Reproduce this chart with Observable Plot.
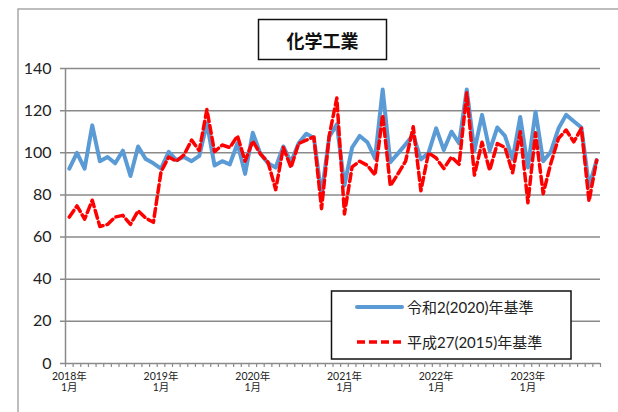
<!DOCTYPE html>
<html>
<head>
<meta charset="utf-8">
<script src="https://cdn.jsdelivr.net/npm/d3@7"></script>
<script src="https://cdn.jsdelivr.net/npm/@observablehq/plot@0.6"></script>
<style>
  body { margin: 0; background: #fff; }
  #chart { width: 618px; height: 412px; overflow: hidden; }
</style>
</head>
<body>
<div id="chart"></div>
<script>
// ---- data ----
const title = "化学工業";
const seriesNames = ["令和2(2020)年基準", "平成27(2015)年基準"];
const years = [2018, 2019, 2020, 2021, 2022, 2023];
const lastMonthOf2023 = 10;
// monthly index, 令和2(2020)年基準 (blue)
const base2020 = [
  92.5, 100, 92.5, 113, 96, 98, 95, 101, 89, 103, 97, 95,
  92.5, 100.5, 96.5, 98, 96, 98.5, 114, 94, 96, 94.5, 104.5, 90,
  109.5, 99.5, 95, 93, 103, 95.5, 104.5, 109, 107, 80, 107.5, 113.5,
  84.5, 102.5, 108, 105, 97.3, 130, 95.5, 99.7, 104, 108.5, 96.8, 100,
  111.6, 101.3, 110, 104.5, 130, 101, 118, 101, 112, 108, 97, 117,
  93, 119.5, 96, 100.5, 111.5, 118, 115, 112, 84, 96.5
];
// monthly index, 平成27(2015)年基準 (red dashed)
const base2015 = [
  69.5, 74.8, 68.5, 77.5, 65, 66, 69.5, 70.3, 66, 72.5, 69, 67,
  91, 98, 96, 99, 106, 101, 120.5, 100.5, 103.7, 102.5, 108, 96,
  105.5, 99.5, 95.5, 82.5, 102.5, 93, 104.4, 106, 107.5, 73.5, 108, 126,
  71, 93.3, 96, 94, 89.4, 118, 84.3, 90, 96, 112.4, 82, 100,
  97.5, 92.5, 98, 94.5, 128.5, 89.4, 105, 91.7, 104.4, 102.5, 90.5, 110,
  76.3, 109.5, 80.6, 95, 106.8, 110.8, 105.2, 111.6, 77, 96.5
];
const yTicks = [0, 20, 40, 60, 80, 100, 120, 140];

// ---- categories (months) ----
const months = [];
for (const y of years) {
  const last = y === years[years.length - 1] ? lastMonthOf2023 : 12;
  for (let m = 1; m <= last; m++) months.push({year: y, month: m});
}
const rows = months.map((d, i) => ({i, ...d, blue: base2020[i], red: base2015[i]}));
const xLabels = rows.filter(d => d.month === 1).map(d => ({i: d.i, label: `${d.year}年\n${d.month}月`}));

const FONT = "Lato, 'Noto Sans CJK JP', sans-serif";
const GRID = "#8a8a8a";
const BLUE = "#5B9BD5";
const RED = "#FF0000";

const plot = Plot.plot({
  width: 618,
  height: 412,
  marginLeft: 65,
  marginRight: 18,
  marginTop: 68,
  marginBottom: 49,
  style: {fontFamily: FONT, background: "transparent", overflow: "visible"},
  x: {type: "linear", domain: [0, months.length], label: null},
  y: {domain: [0, 140], axis: null, label: null},
  marks: [
    Plot.ruleY(yTicks, {stroke: GRID, strokeWidth: 1.5, insetLeft: -5}),
    Plot.ruleX([0], {stroke: GRID, strokeWidth: 1.5}),
    Plot.axisX(d3.range(0, months.length + 1), {tickSize: 4, tickFormat: () => "", stroke: GRID, strokeWidth: 1.2, label: null}),
    Plot.text(yTicks, {x: 0, y: d => d, text: d => String(d), textAnchor: "end", dx: -14, fontSize: 16, fill: "#222"}),
    Plot.text(xLabels, {x: d => d.i + 0.5, text: "label", frameAnchor: "bottom", lineAnchor: "top", dy: 8, fontSize: 10.5, lineHeight: 1.1, fill: "#222"}),
    Plot.line(rows, {x: d => d.i + 0.5, y: "blue", stroke: BLUE, strokeWidth: 4, strokeLinejoin: "round", strokeLinecap: "round"}),
    Plot.line(rows, {x: d => d.i + 0.5, y: "red", stroke: RED, strokeWidth: 3.5, strokeDasharray: "8,4", strokeLinejoin: "round"})
  ]
});

document.getElementById("chart").appendChild(plot);

// ---- decorations: outer frame, title box, legend ----
const svg = d3.select(plot);
svg.insert("rect", ":first-child")
  .attr("x", 18).attr("y", 9).attr("width", 700).attr("height", 500)
  .attr("fill", "white").attr("stroke", "#a8a8a8").attr("stroke-width", 1.5);

const tg = svg.append("g");
tg.append("rect").attr("x", 258.5).attr("y", 19.5).attr("width", 128).attr("height", 40)
  .attr("fill", "white").attr("stroke", "#111").attr("stroke-width", 1.5);
tg.append("text").attr("x", 322.5).attr("y", 40).attr("text-anchor", "middle")
  .attr("dominant-baseline", "central").attr("font-size", 18).attr("font-weight", "bold")
  .attr("font-family", "'Noto Sans CJK JP', sans-serif").attr("fill", "#111").text(title);

const lg = svg.append("g");
lg.append("rect").attr("x", 331.5).attr("y", 291).attr("width", 239.5).attr("height", 68)
  .attr("fill", "white").attr("stroke", "#111").attr("stroke-width", 1.5);
const legendItems = [
  {name: seriesNames[0], color: BLUE, width: 4, dash: null, y: 307},
  {name: seriesNames[1], color: RED, width: 3.5, dash: "8,4", y: 342}
];
for (const it of legendItems) {
  const ln = lg.append("line").attr("x1", 357).attr("x2", 402).attr("y1", it.y).attr("y2", it.y)
    .attr("stroke", it.color).attr("stroke-width", it.width);
  if (it.dash) ln.attr("stroke-dasharray", it.dash);
  else ln.attr("stroke-linecap", "round");
  lg.append("text").attr("x", 407).attr("y", it.y).attr("text-anchor", "start")
    .attr("dominant-baseline", "central")
    .attr("font-size", 15).attr("font-family", FONT).attr("fill", "#222").text(it.name);
}
</script>
</body>
</html>
